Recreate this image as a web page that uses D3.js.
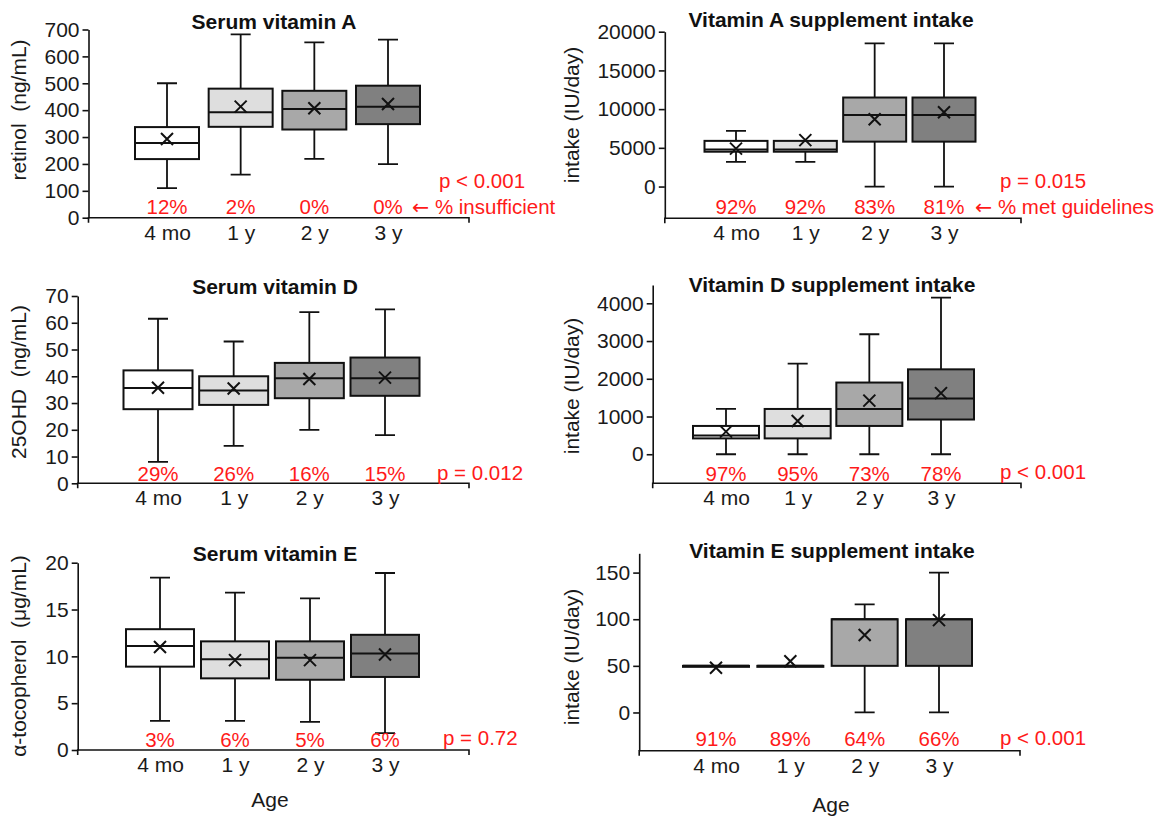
<!DOCTYPE html>
<html>
<head>
<meta charset="utf-8">
<script src="https://cdn.jsdelivr.net/npm/d3@7"></script>
<style>
  body { margin: 0; background: #fff; }
  svg text { font-family: "Liberation Sans", Arial, sans-serif; }
  .tick-label { font-size: 21px; fill: #1a1a1a; }
  .cat-label { font-size: 21px; fill: #1a1a1a; }
  .title { font-size: 21px; font-weight: bold; fill: #111; }
  .y-title { font-size: 21px; fill: #1a1a1a; }
  .red { font-size: 20.5px; fill: #ff1a1a; }
  .arrow { font-family: "DejaVu Sans", sans-serif; }
</style>
</head>
<body>
<div id="chart"></div>
<script>
// categories shared by all panels
const ages = [ "4 mo", "1 y", "2 y", "3 y" ];

// each row: [ min, q1, median, q3, max, mean ]
const serumA = [ [ 110, 218, 278, 337, 500, 293 ], [ 160, 338, 392, 480, 682, 413 ], [ 219, 328, 404, 472, 652, 407 ], [ 199, 348, 413, 491, 662, 423 ] ];
const serumAPct = [ "12%", "2%", "0%", "0%" ];
const serumATicks = [ 0, 100, 200, 300, 400, 500, 600, 700 ];

const suppA = [ [ 3200, 4500, 4800, 5900, 7200, 4900 ], [ 3200, 4500, 4800, 5900, 5900, 6000 ], [ 0, 5800, 9250, 11500, 18500, 8700 ], [ 0, 5800, 9250, 11500, 18500, 9600 ] ];
const suppAPct = [ "92%", "92%", "83%", "81%" ];
const suppATicks = [ 0, 5000, 10000, 15000, 20000 ];

const serumD = [ [ 8, 27.7, 35.6, 42.2, 61.5, 35.7 ], [ 14, 29.3, 34.7, 40, 53, 35.4 ], [ 20, 31.8, 39.3, 45, 64, 39 ], [ 18, 32.7, 39.3, 47, 65, 39.5 ] ];
const serumDPct = [ "29%", "26%", "16%", "15%" ];
const serumDTicks = [ 0, 10, 20, 30, 40, 50, 60, 70 ];

const suppD = [ [ 0, 420, 500, 750, 1200, 600 ], [ 0, 420, 750, 1200, 2400, 880 ], [ 0, 750, 1200, 1900, 3180, 1420 ], [ 0, 920, 1480, 2250, 4150, 1620 ] ];
const suppDPct = [ "97%", "95%", "73%", "78%" ];
const suppDTicks = [ 0, 1000, 2000, 3000, 4000 ];

const serumE = [ [ 3.1, 8.9, 11.1, 12.9, 18.4, 11.0 ], [ 3.1, 7.65, 9.7, 11.6, 16.8, 9.6 ], [ 3.0, 7.5, 9.86, 11.6, 16.2, 9.6 ], [ 1.8, 7.8, 10.3, 12.3, 18.9, 10.2 ] ];
const serumEPct = [ "3%", "6%", "5%", "6%" ];
const serumETicks = [ 0, 5, 10, 15, 20 ];

const suppE = [ [ 50, 50, 50, 50, 50, 48 ], [ 50, 50, 50, 50, 50, 55 ], [ 0, 50, 100, 100, 116, 83 ], [ 0, 50, 100, 100, 150, 99 ] ];
const suppEPct = [ "91%", "89%", "64%", "66%" ];
const suppETicks = [ 0, 50, 100, 150 ];

const boxFills = [ "#ffffff", "#dedede", "#a8a8a8", "#808080" ];

// Step 1: panel layout (pixel positions only)
const panels = [
  { title: "Serum vitamin A", yTitle: "retinol  (ng/mL)", stats: serumA, pct: serumAPct, ticks: serumATicks,
    pText: "p < 0.001", note: "% insufficient",
    domain: [ 0, 700 ], axisX: 88.5, axisEnd: 469, yBottom: 217.7, yTop: 29.5, cats: [ 167, 388 ], boxW: 64,
    titleX: 274, titleY: 29, yTitleX: 26, yTitleY: 110, pX: 439, pY: 188, noteX: 412, pctY: 214 },
  { title: "Vitamin A supplement intake", yTitle: "intake (IU/day)", stats: suppA, pct: suppAPct, ticks: suppATicks,
    pText: "p = 0.015", note: "% met guidelines",
    domain: [ -4100, 20000 ], axisX: 664.8, axisEnd: 1021, yBottom: 218.3, yTop: 31.7, cats: [ 736, 944 ], boxW: 63,
    titleX: 831, titleY: 27, yTitleX: 579, yTitleY: 115, pX: 1000, pY: 188, noteX: 975, pctY: 214 },
  { title: "Serum vitamin D", yTitle: "25OHD  (ng/mL)", stats: serumD, pct: serumDPct, ticks: serumDTicks,
    pText: "p = 0.012", note: null,
    domain: [ 0, 70 ], axisX: 77.7, axisEnd: 469, yBottom: 483.3, yTop: 296, cats: [ 158, 385 ], boxW: 69,
    titleX: 275, titleY: 294, yTitleX: 26, yTitleY: 382, pX: 437, pY: 480, noteX: 0, pctY: 481 },
  { title: "Vitamin D supplement intake", yTitle: "intake (IU/day)", stats: suppD, pct: suppDPct, ticks: suppDTicks,
    pText: "p < 0.001", note: null,
    domain: [ -770, 4485 ], axisX: 652.7, axisEnd: 1021, yBottom: 483.3, yTop: 285, cats: [ 726, 941 ], boxW: 66,
    titleX: 832, titleY: 292, yTitleX: 579, yTitleY: 386, pX: 1000, pY: 479, noteX: 0, pctY: 481 },
  { title: "Serum vitamin E", yTitle: "\u03b1-tocopherol  (\u03bcg/mL)", stats: serumE, pct: serumEPct, ticks: serumETicks,
    pText: "p = 0.72", note: null,
    domain: [ 0, 20 ], axisX: 77.7, axisEnd: 469, yBottom: 750, yTop: 562.7, cats: [ 160, 385 ], boxW: 68,
    titleX: 275, titleY: 561, yTitleX: 26, yTitleY: 656, pX: 443, pY: 745, noteX: 0, pctY: 747, age: [ 270, 807 ] },
  { title: "Vitamin E supplement intake", yTitle: "intake (IU/day)", stats: suppE, pct: suppEPct, ticks: suppETicks,
    pText: "p < 0.001", note: null,
    domain: [ -41, 170.7 ], axisX: 639.2, axisEnd: 1020, yBottom: 750.7, yTop: 553.3, cats: [ 716, 939 ], boxW: 66,
    titleX: 832, titleY: 558, yTitleX: 579, yTitleY: 657, pX: 1000, pY: 745, noteX: 0, pctY: 746, age: [ 831, 812 ] }
];

// Step 2: svg wrapper
const svg = d3.select( "#chart" )
  .append( "svg" )
  .attr( "width", 1171 )
  .attr( "height", 819 );

function drawPanel ( p ) {
  const g = svg.append( "g" );
  const y = d3.scaleLinear().domain( p.domain ).range( [ p.yBottom, p.yTop ] );
  const x = d3.scalePoint().domain( ages ).range( p.cats );

  // y axis
  const yAxis = g.append( "g" )
    .attr( "transform", `translate(${p.axisX},0)` )
    .call( d3.axisLeft( y ).tickValues( p.ticks ).tickFormat( d3.format( "d" ) )
      .tickSize( 6 ).tickSizeOuter( 0 ).tickPadding( 3 ) );
  yAxis.attr( "font-size", null ).attr( "font-family", null );
  yAxis.select( ".domain" ).attr( "stroke", "#111" ).attr( "stroke-width", 1.6 );
  yAxis.selectAll( ".tick line" ).attr( "stroke", "#111" ).attr( "stroke-width", 1.6 );
  yAxis.selectAll( ".tick text" ).attr( "class", "tick-label" );

  // x axis base line with small end ticks
  g.append( "path" )
    .attr( "d", `M${p.axisX},${p.yBottom + 5}V${p.yBottom}H${p.axisEnd}V${p.yBottom + 5}` )
    .attr( "fill", "none" )
    .attr( "stroke", "#111" )
    .attr( "stroke-width", 1.6 );

  // category labels
  const xAxis = g.append( "g" )
    .attr( "transform", `translate(0,${p.yBottom})` )
    .call( d3.axisBottom( x ).tickSize( 0 ).tickPadding( 7 ) );
  xAxis.select( ".domain" ).remove();
  xAxis.attr( "font-size", null ).attr( "font-family", null );
  xAxis.selectAll( ".tick text" ).attr( "class", "cat-label" );

  // boxes
  const boxes = g.selectAll( ".box" )
    .data( p.stats )
    .enter()
    .append( "g" )
    .attr( "class", "box" )
    .attr( "data-cx", ( d, i ) => x( ages[ i ] ) );

  const half = p.boxW / 2;
  const cap = 10;
  const cxOf = d => x( ages[ p.stats.indexOf( d ) ] );

  // upper whisker
  boxes.filter( d => d[ 4 ] > d[ 3 ] ).append( "path" )
    .attr( "d", d => `M${cxOf( d )},${y( d[ 3 ] )}V${y( d[ 4 ] )}M${cxOf( d ) - cap},${y( d[ 4 ] )}H${cxOf( d ) + cap}` )
    .attr( "stroke", "#111" ).attr( "stroke-width", 1.8 ).attr( "fill", "none" );

  // lower whisker
  boxes.filter( d => d[ 0 ] < d[ 1 ] ).append( "path" )
    .attr( "d", d => `M${cxOf( d )},${y( d[ 1 ] )}V${y( d[ 0 ] )}M${cxOf( d ) - cap},${y( d[ 0 ] )}H${cxOf( d ) + cap}` )
    .attr( "stroke", "#111" ).attr( "stroke-width", 1.8 ).attr( "fill", "none" );

  boxes.append( "rect" )
    .attr( "x", ( d, i ) => x( ages[ i ] ) - half )
    .attr( "y", d => y( d[ 3 ] ) )
    .attr( "width", p.boxW )
    .attr( "height", d => Math.max( 1, y( d[ 1 ] ) - y( d[ 3 ] ) ) )
    .attr( "fill", ( d, i ) => boxFills[ i ] )
    .attr( "stroke", "#111" )
    .attr( "stroke-width", 2 );

  // median
  boxes.append( "line" )
    .attr( "x1", ( d, i ) => x( ages[ i ] ) - half )
    .attr( "x2", ( d, i ) => x( ages[ i ] ) + half )
    .attr( "y1", d => y( d[ 2 ] ) )
    .attr( "y2", d => y( d[ 2 ] ) )
    .attr( "stroke", "#111" )
    .attr( "stroke-width", 2 );

  // mean marker
  const m = 6;
  boxes.append( "path" )
    .attr( "d", ( d, i ) => {
      const cx = x( ages[ i ] ), cy = y( d[ 5 ] );
      return `M${cx - m},${cy - m}L${cx + m},${cy + m}M${cx - m},${cy + m}L${cx + m},${cy - m}`;
    } )
    .attr( "stroke", "#111" )
    .attr( "stroke-width", 2 );

  // percent labels
  g.selectAll( ".pct" )
    .data( p.pct )
    .enter()
    .append( "text" )
    .attr( "class", "red" )
    .attr( "x", ( d, i ) => x( ages[ i ] ) )
    .attr( "y", p.pctY )
    .attr( "text-anchor", "middle" )
    .text( d => d );

  if ( p.note ) {
    const note = g.append( "text" ).attr( "class", "red" )
      .attr( "x", p.noteX ).attr( "y", p.pctY );
    note.append( "tspan" ).attr( "class", "arrow" ).text( "\u2190" );
    note.append( "tspan" ).text( " " + p.note );
  }

  g.append( "text" ).attr( "class", "red" )
    .attr( "x", p.pX ).attr( "y", p.pY )
    .text( p.pText );

  // titles
  g.append( "text" ).attr( "class", "title" )
    .attr( "x", p.titleX ).attr( "y", p.titleY )
    .attr( "text-anchor", "middle" )
    .text( p.title );

  g.append( "text" ).attr( "class", "y-title" )
    .attr( "transform", `translate(${p.yTitleX},${p.yTitleY}) rotate(-90)` )
    .attr( "text-anchor", "middle" )
    .style( "white-space", "pre" )
    .text( p.yTitle );

  if ( p.age ) {
    g.append( "text" ).attr( "class", "cat-label" )
      .attr( "x", p.age[ 0 ] ).attr( "y", p.age[ 1 ] )
      .attr( "text-anchor", "middle" )
      .text( "Age" );
  }
}

panels.forEach( drawPanel );
</script>
</body>
</html>
